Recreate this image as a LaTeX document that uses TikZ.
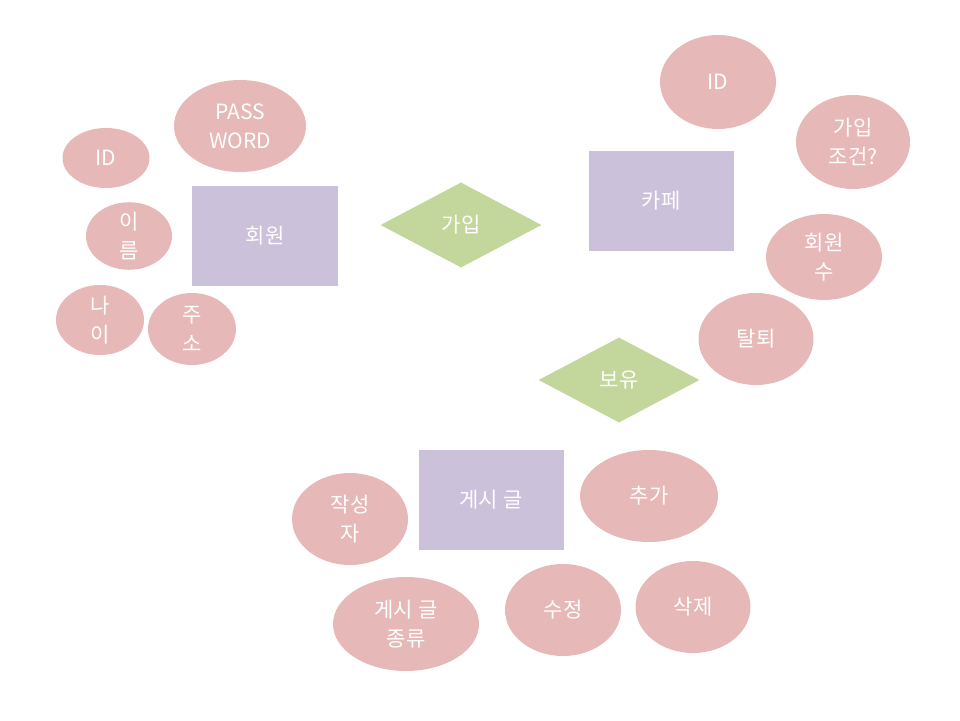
\documentclass[tikz,border=0pt]{standalone}
\usepackage{fontspec}
\setmainfont{Noto Sans CJK KR}
\usetikzlibrary{shapes.geometric}
\definecolor{attrpink}{HTML}{E6B9B8}
\definecolor{entpurple}{HTML}{CCC1DA}
\definecolor{relgreen}{HTML}{C3D69B}
\tikzset{
  lbl/.style={text=white, align=center, font=\fontsize{21}{29}\selectfont},
  attr/.style={ellipse, fill=attrpink, draw=none, inner sep=0pt, lbl},
  ent/.style={rectangle, fill=entpurple, draw=none, inner sep=0pt, lbl},
  rel/.style={diamond, fill=relgreen, draw=none, inner sep=0pt, lbl, aspect=1.9},
}
\begin{document}
\begin{tikzpicture}[x=1pt,y=-1pt]
\useasboundingbox (0,0) rectangle (960,720);
% 회원 entity
\node[ent, minimum width=146pt, minimum height=100pt] (member) at (265,236) {회원};
\node[attr, minimum width=87pt, minimum height=60pt] (mid) at (106,158) {ID};
\node[attr, minimum width=132pt, minimum height=92pt] (mpw) at (240,126) {PASS\\WORD};
\node[attr, minimum width=86pt, minimum height=60pt] (mname) at (129,236) {이\\름};
\node[attr, minimum width=88pt, minimum height=70pt] (mage) at (100,320) {나\\이};
\node[attr, minimum width=88pt, minimum height=72pt] (maddr) at (192,329) {주\\소};
% 가입 relation
\node[rel, minimum width=161pt, minimum height=85pt] (join) at (461,225) {가입};
% 카페 entity
\node[ent, minimum width=145pt, minimum height=100pt] (cafe) at (661,201) {카페};
\node[attr, minimum width=116pt, minimum height=94pt] (cid) at (718,82) {ID};
\node[attr, minimum width=114pt, minimum height=94pt] (ccond) at (853,142) {가입\\조건?};
\node[attr, minimum width=116pt, minimum height=86pt] (ccount) at (824,257) {회원\\수};
\node[attr, minimum width=115pt, minimum height=92pt] (cleave) at (756,339) {탈퇴};
% 보유 relation
\node[rel, minimum width=161pt, minimum height=85pt] (own) at (619,380) {보유};
% 게시 글 entity
\node[ent, minimum width=145pt, minimum height=100pt] (post) at (491,500) {게시 글};
\node[attr, minimum width=116pt, minimum height=92pt] (pauthor) at (350,519) {작성\\자};
\node[attr, minimum width=138pt, minimum height=92pt] (padd) at (649,496) {추가};
\node[attr, minimum width=146pt, minimum height=94pt] (ptype) at (406,624) {게시 글\\종류};
\node[attr, minimum width=116pt, minimum height=92pt] (pedit) at (563,610) {수정};
\node[attr, minimum width=115pt, minimum height=92pt] (pdel) at (693,607) {삭제};
\end{tikzpicture}
\end{document}
